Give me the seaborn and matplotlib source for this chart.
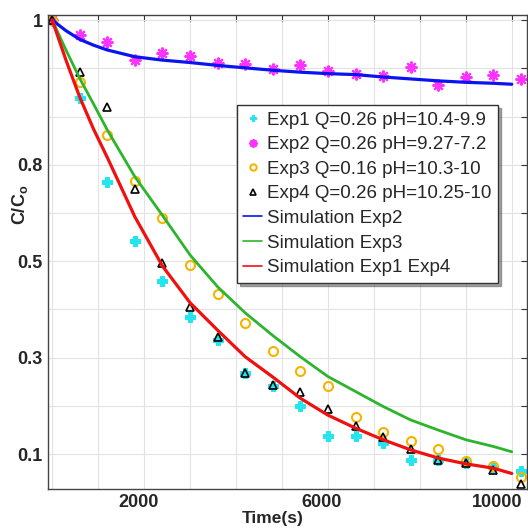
import numpy as np
import pandas as pd
import seaborn as sns
import matplotlib.pyplot as plt
from matplotlib.transforms import ScaledTranslation

# measured points, every 600 s
t_exp = [0, 600, 1200, 1800, 2400, 3000, 3600, 4200, 4800, 5400,
         6000, 6600, 7200, 7800, 8400, 9000, 9600, 10200]
exp1 = [1.0, 0.839, 0.665, 0.542, 0.460, 0.384, 0.337, 0.268, 0.241, 0.199,
        0.138, 0.138, 0.123, 0.088, 0.088, 0.082, 0.074, 0.066]
exp2 = [1.0, 0.970, 0.954, 0.917, 0.931, 0.925, 0.912, 0.910, 0.898, 0.906,
        0.894, 0.888, 0.885, 0.903, 0.865, 0.883, 0.887, 0.878]
exp3 = [1.0, 0.871, 0.762, 0.667, 0.589, 0.492, 0.432, 0.372, 0.314, 0.273,
        0.241, 0.178, 0.146, 0.127, 0.110, 0.085, 0.075, 0.053]
exp4 = [1.0, 0.893, 0.820, 0.650, 0.496, 0.406, 0.342, 0.268, 0.243, 0.228,
        0.193, 0.159, 0.135, 0.111, 0.088, 0.081, 0.067, 0.038]

# simulation curves
t_sim = [0, 300, 600, 900, 1200, 1800, 2400, 3000, 3600, 4200, 4800, 5400,
         6000, 6600, 7200, 7800, 8400, 9000, 9600, 10000]
sim2 = [1.0, 0.978, 0.960, 0.948, 0.938, 0.924, 0.917, 0.912, 0.906, 0.901,
        0.896, 0.892, 0.889, 0.887, 0.882, 0.878, 0.874, 0.871, 0.869, 0.867]
sim3 = [1.0, 0.938, 0.879, 0.826, 0.772, 0.675, 0.595, 0.513, 0.447, 0.393,
        0.346, 0.302, 0.261, 0.230, 0.199, 0.171, 0.150, 0.130, 0.116, 0.105]
sim14 = [1.0, 0.917, 0.840, 0.774, 0.715, 0.592, 0.490, 0.414, 0.357, 0.302,
         0.260, 0.216, 0.181, 0.154, 0.130, 0.109, 0.092, 0.080, 0.071, 0.060]

x_ticks = list(range(0, 11000, 1000))
x_labels = ['', '', '2000', '', '', '', '6000', '', '', '', '10000']
y_ticks = [0.1, 0.2, 0.3, 0.4, 0.5, 0.6, 0.7, 0.8, 0.9, 1.0]
y_labels = ['0.1', '', '0.3', '', '0.5', '', '0.8', '', '', '1']

sns.set_style('whitegrid')
plt.rcParams['font.family'] = ['Liberation Sans', 'DejaVu Sans']
plt.rcParams['mathtext.fontset'] = 'custom'
plt.rcParams['mathtext.bf'] = 'Liberation Sans:bold'
plt.rcParams['mathtext.rm'] = 'Liberation Sans:bold'
plt.rcParams['mathtext.default'] = 'bf'

fig = plt.figure(figsize=(5.28, 5.28), dpi=100)
ax = fig.add_axes([0.091, 0.074, 0.907, 0.898])

ms = dict(linestyle='', ax=ax)
sns.lineplot(x=t_exp, y=exp1, marker='P', markersize=6.5, color='#22e5f0',
             mec='#22e5f0', label='Exp1 Q=0.26 pH=10.4-9.9', **ms)
sns.lineplot(x=t_exp, y=exp2, marker=(8, 2, 0), markersize=8.5, color='#ff33ff',
             mew=1.5, mec='#ff33ff', label='Exp2 Q=0.26 pH=9.27-7.2', **ms)
sns.lineplot(x=t_exp, y=exp3, marker='o', markersize=6.5, color='#f5b400',
             mfc='none', mec='#f5b400', mew=1.5, label='Exp3 Q=0.16 pH=10.3-10', **ms)
sns.lineplot(x=t_exp, y=exp4, marker='^', markersize=6, color='black',
             mfc='none', mec='black', mew=1.2, label='Exp4 Q=0.26 pH=10.25-10', **ms)

sns.lineplot(x=t_sim, y=sim2, color='#0a14f0', lw=2.3, ax=ax, label='Simulation Exp2')
sns.lineplot(x=t_sim, y=sim3, color='#2cb52c', lw=2.0, ax=ax, label='Simulation Exp3')
sns.lineplot(x=t_sim, y=sim14, color='#f01010', lw=2.3, ax=ax, label='Simulation Exp1 Exp4')

ax.set_xlim(-90, 10330)
ax.set_ylim(0.028, 1.011)
ax.set_xticks(x_ticks)
ax.set_xticklabels(x_labels, fontsize=13, fontweight='bold')
ax.set_yticks(y_ticks)
ax.set_yticklabels(y_labels, fontsize=13, fontweight='bold')
ax.tick_params(direction='in', top=True, right=True, length=4, color='#333333',
               pad=4)
ax.grid(True, color='#e3e3e3', lw=0.8)
for s in ax.spines.values():
    s.set_color('#444444')
    s.set_linewidth(1.0)

# tick labels sit a little left of their ticks in the original
for lab in ax.get_xticklabels():
    dx = -15 if lab.get_text() == '10000' else -6
    lab.set_transform(lab.get_transform() + ScaledTranslation(dx / 100, 0, fig.dpi_scale_trans))

ax.set_xlabel('Time(s)', fontsize=12.5, fontweight='bold')
ax.xaxis.set_label_coords(0.47, -0.046)
ax.set_ylabel('C/C$_{o}$', fontsize=13, fontweight='bold')
ax.yaxis.set_label_coords(-0.037, 0.60)

leg = ax.legend(loc='upper right', bbox_to_anchor=(0.939, 0.810), fontsize=13.5,
                frameon=True, fancybox=False, shadow=True, framealpha=1,
                handlelength=1.0, handletextpad=0.25, borderpad=0.35,
                labelspacing=0.4, markerscale=0.7, borderaxespad=0)
leg.get_frame().set_edgecolor('#333333')
leg.get_frame().set_linewidth(1.0)
for line in leg.get_lines()[4:]:
    line.set_linewidth(1.2)

fig.savefig('out.png', dpi=100)
